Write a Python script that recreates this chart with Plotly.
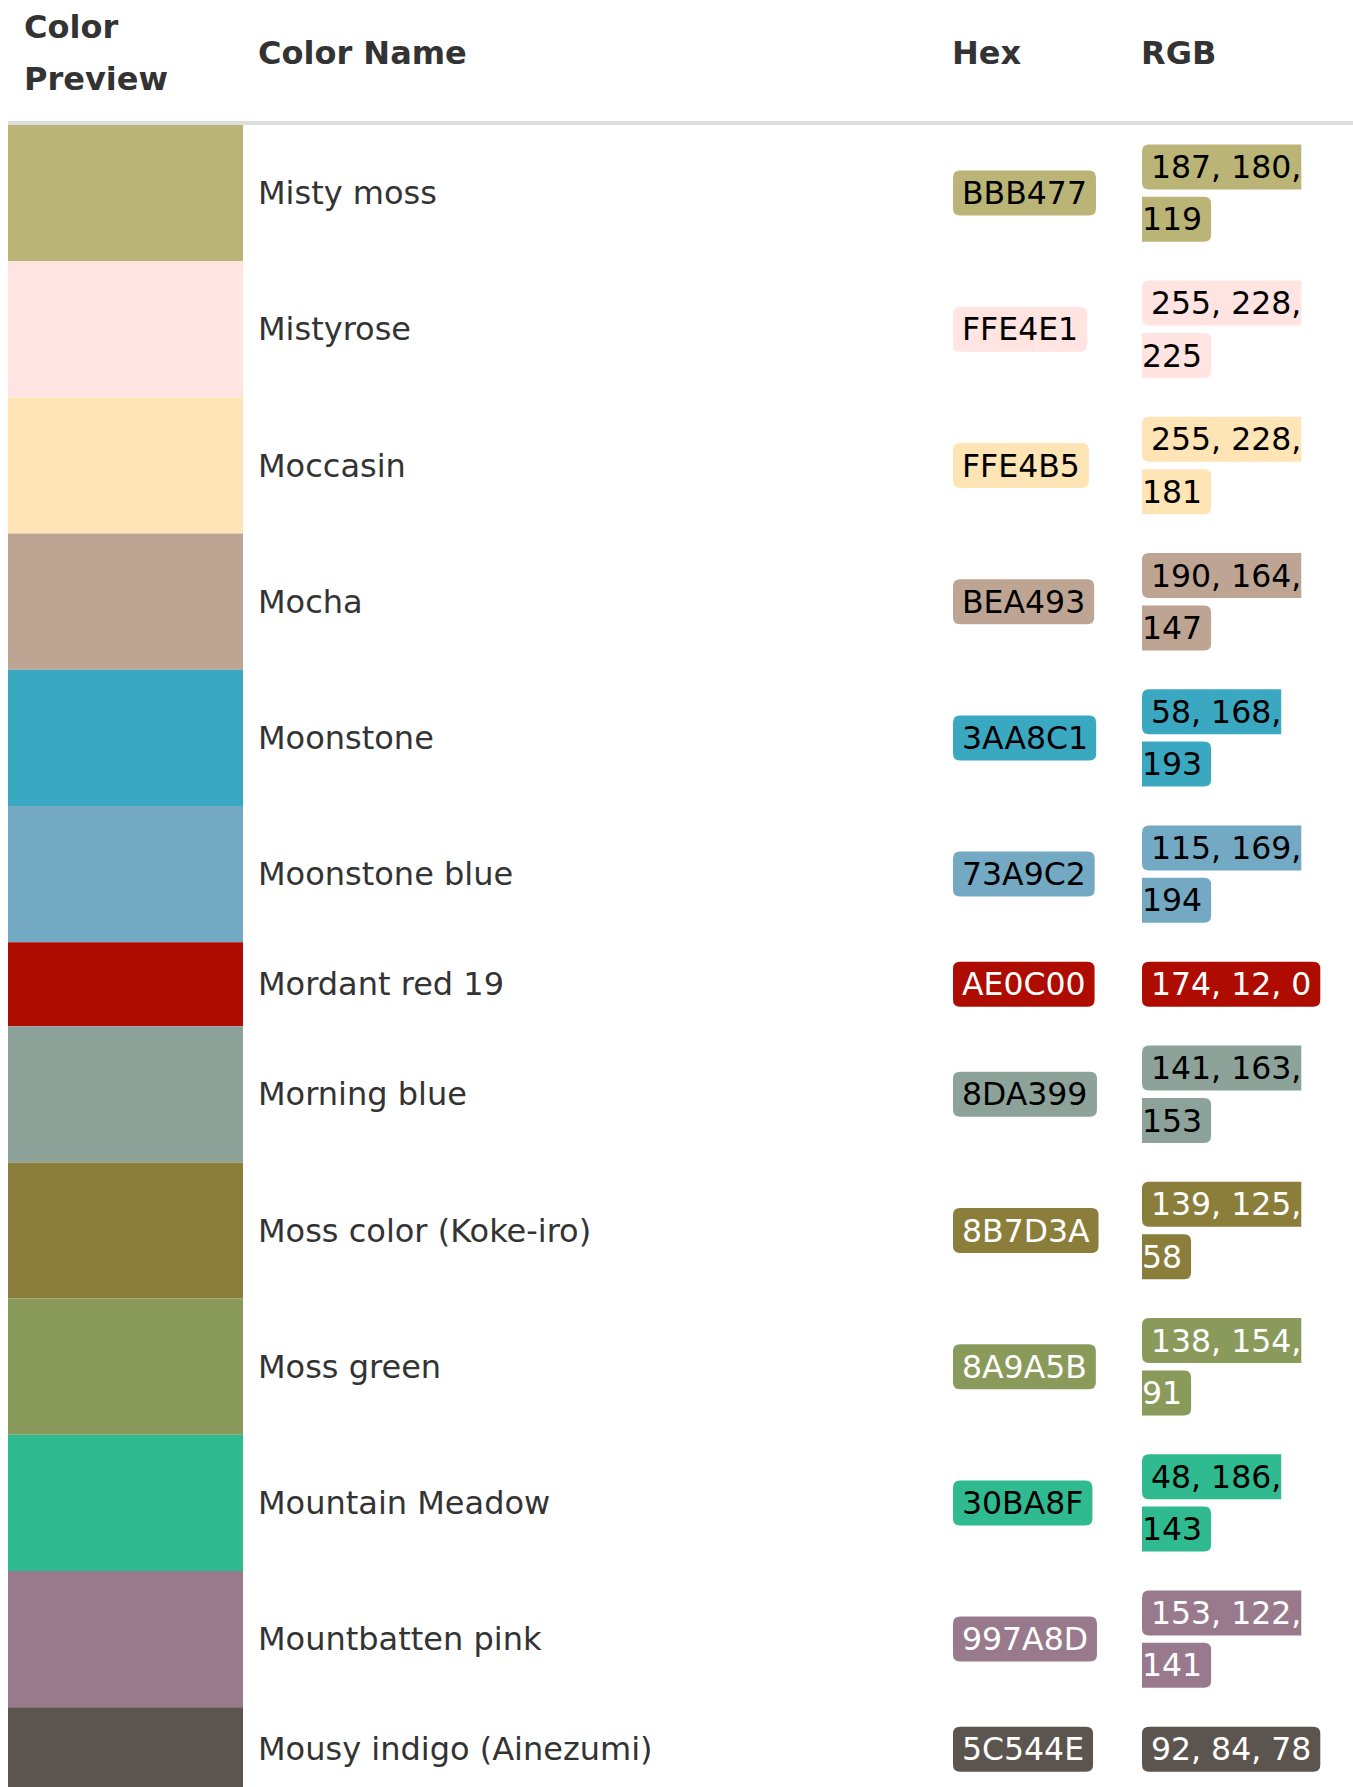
"""
Colour reference table: preview swatch, name, hex and RGB badges
"""
import plotly.graph_objects as go

color_names = [
    'Misty moss', 'Mistyrose', 'Moccasin', 'Mocha', 'Moonstone',
    'Moonstone blue', 'Mordant red 19', 'Morning blue', 'Moss color (Koke-iro)',
    'Moss green', 'Mountain Meadow', 'Mountbatten pink', 'Mousy indigo (Ainezumi)',
]
hex_codes = [
    'BBB477', 'FFE4E1', 'FFE4B5', 'BEA493', '3AA8C1',
    '73A9C2', 'AE0C00', '8DA399', '8B7D3A',
    '8A9A5B', '30BA8F', '997A8D', '5C544E',
]
rgb_values = [
    (187, 180, 119), (255, 228, 225), (255, 228, 181), (190, 164, 147), (58, 168, 193),
    (115, 169, 194), (174, 12, 0), (141, 163, 153), (139, 125, 58),
    (138, 154, 91), (48, 186, 143), (153, 122, 141), (92, 84, 78),
]
badge_text_colors = [
    'black', 'black', 'black', 'black', 'black',
    'black', 'white', 'black', 'white',
    'white', 'black', 'white', 'white',
]
headers = ['Color Name', 'Hex', 'RGB']

PAGE_W, PAGE_H = 1353, 1787
FONT = 'DejaVu Sans'
FS = 31.5        # badge text
FS_TEXT = 32     # names and headers
TEXT_COLOR = '#333333'

# column / row geometry (page px)
SWATCH_X0, SWATCH_X1 = 8, 243
NAME_X = 258
HEX_X = 953
RGB_X = 1142
RGB_MAX_W = 200
ROW_TOP = 125
TALL_ROW, SHORT_ROW = 136.2, 84
PAD = 9
BADGE_H = 45
RADIUS = 7
LINE_GAP = 52.4

# DejaVu Sans advance widths (em) for the glyphs used in the badges
CHAR_W = {',': 0.3179, ' ': 0.3179, 'A': 0.6841, 'B': 0.6860, 'C': 0.6982,
          'D': 0.7700, 'E': 0.6318, 'F': 0.5752}
for d in '0123456789':
    CHAR_W[d] = 0.6362


def text_width(s):
    return sum(CHAR_W.get(c, 0.6) for c in s) * FS


def badge_path(x0, x1, y0, y1, r, left=True, right=True):
    rl = r if left else 0
    rr = r if right else 0
    return (f'M {x0 + rl},{y0} L {x1 - rr},{y0} Q {x1},{y0} {x1},{y0 + rr} '
            f'L {x1},{y1 - rr} Q {x1},{y1} {x1 - rr},{y1} L {x0 + rl},{y1} '
            f'Q {x0},{y1} {x0},{y1 - rl} L {x0},{y0 + rl} Q {x0},{y0} {x0 + rl},{y0} Z')


rgb_texts = [f'{r}, {g}, {b}' for r, g, b in rgb_values]
wraps = [text_width(t) + 2 * PAD > RGB_MAX_W for t in rgb_texts]
row_heights = [TALL_ROW if w else SHORT_ROW for w in wraps]
row_tops = []
y = ROW_TOP
for h in row_heights:
    row_tops.append(y)
    y += h
row_centers = [t + h / 2 for t, h in zip(row_tops, row_heights)]

fig = go.Figure()

# colour swatches
fig.add_trace(go.Bar(
    x=[(SWATCH_X0 + SWATCH_X1) / 2] * len(hex_codes),
    y=row_heights,
    base=row_tops,
    width=SWATCH_X1 - SWATCH_X0,
    marker=dict(color=['#' + h for h in hex_codes], line=dict(width=0)),
    hoverinfo='skip',
    showlegend=False,
))

shapes = [dict(type='rect', xref='x', yref='y', x0=SWATCH_X0, x1=PAGE_W, y0=121, y1=125,
               fillcolor='#dddddd', line=dict(width=0), layer='below')]
annotations = []


def add_text(x, y, text, color=TEXT_COLOR, xanchor='left', size=FS_TEXT):
    annotations.append(dict(
        x=x, y=y, xref='x', yref='y', text=text, showarrow=False,
        xanchor=xanchor, yanchor='middle', borderpad=0, borderwidth=0,
        font=dict(family=FONT, size=size, color=color),
    ))


# header
add_text(24, 27, '<b>Color</b>')
add_text(24, 79, '<b>Preview</b>')
for hx, label in zip([NAME_X, HEX_X - 1, RGB_X - 1], headers):
    add_text(hx, 53, f'<b>{label}</b>')

for i, cy in enumerate(row_centers):
    fill = '#' + hex_codes[i]
    tcol = badge_text_colors[i]
    add_text(NAME_X, cy, color_names[i])

    # hex badge
    hw = text_width(hex_codes[i]) + 2 * PAD
    shapes.append(dict(type='path', xref='x', yref='y', fillcolor=fill, line=dict(width=0),
                       path=badge_path(HEX_X, HEX_X + hw, cy - BADGE_H / 2, cy + BADGE_H / 2, RADIUS)))
    add_text(HEX_X + hw / 2, cy, hex_codes[i], color=tcol, xanchor='center', size=FS)

    # rgb badge (inline box, may wrap to two lines)
    txt = rgb_texts[i]
    if wraps[i]:
        first, second = txt.rsplit(' ', 1)
        y1c, y2c = cy - LINE_GAP / 2, cy + LINE_GAP / 2
        w1 = PAD + text_width(first)
        w2 = text_width(second) + PAD
        shapes.append(dict(type='path', xref='x', yref='y', fillcolor=fill, line=dict(width=0),
                           path=badge_path(RGB_X, RGB_X + w1, y1c - BADGE_H / 2, y1c + BADGE_H / 2,
                                           RADIUS, left=True, right=False)))
        shapes.append(dict(type='path', xref='x', yref='y', fillcolor=fill, line=dict(width=0),
                           path=badge_path(RGB_X, RGB_X + w2, y2c - BADGE_H / 2, y2c + BADGE_H / 2,
                                           RADIUS, left=False, right=True)))
        add_text(RGB_X + PAD + text_width(first) / 2, y1c, first, color=tcol, xanchor='center', size=FS)
        add_text(RGB_X + text_width(second) / 2, y2c, second, color=tcol, xanchor='center', size=FS)
    else:
        rw = text_width(txt) + 2 * PAD
        shapes.append(dict(type='path', xref='x', yref='y', fillcolor=fill, line=dict(width=0),
                           path=badge_path(RGB_X, RGB_X + rw, cy - BADGE_H / 2, cy + BADGE_H / 2, RADIUS)))
        add_text(RGB_X + rw / 2, cy, txt, color=tcol, xanchor='center', size=FS)

fig.update_layout(
    width=PAGE_W,
    height=PAGE_H,
    margin=dict(l=0, r=0, t=0, b=0),
    paper_bgcolor='white',
    plot_bgcolor='white',
    barmode='overlay',
    shapes=shapes,
    annotations=annotations,
    xaxis=dict(range=[0, PAGE_W], visible=False, fixedrange=True),
    yaxis=dict(range=[PAGE_H, 0], visible=False, fixedrange=True),
    showlegend=False,
)

# figure fills the whole window: drop the default page margin and scrollbars
fig.write_html(
    'out.html',
    config={'displayModeBar': False},
    post_script="document.body.style.margin='0';document.body.style.overflow='hidden';",
)
